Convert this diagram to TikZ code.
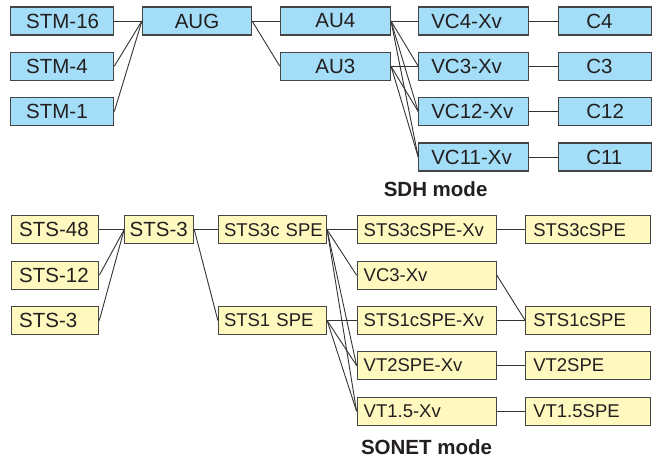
\documentclass[tikz,border=0pt]{standalone}
\usepackage{fontspec}
\setmainfont{Liberation Sans}
\definecolor{sdhblue}{HTML}{A3DDF7}
\definecolor{sonetyellow}{HTML}{FFF9C0}
\definecolor{boxline}{HTML}{454545}
\definecolor{textgray}{HTML}{231F20}
\tikzset{
  box/.style={draw=boxline, line width=1.2pt, minimum height=28pt, inner ysep=0pt,
    font=\fontsize{20.5}{24}\selectfont, text=textgray},
  sdh/.style={box, fill=sdhblue},
  sonet/.style={box, fill=sonetyellow},
  small/.style={font=\fontsize{18.5}{22}\selectfont},
  col/.style 2 args={text width=#1, inner xsep=#2,
    execute at begin node={\hbox to\hsize\bgroup}, execute at end node={\hss\egroup}},
  link/.style={draw=black!80, line width=0.9pt},
  modelabel/.style={font=\fontsize{20.5}{24}\selectfont\bfseries, text=textgray}
}
\begin{document}
\begin{tikzpicture}[x=1pt,y=-1pt]
  \useasboundingbox (0,0) rectangle (658,458);
  % SDH
  \node[sdh,col={72pt}{15.5pt}] (stm16) at (62.2,21) {STM-16};
  \node[sdh,col={72pt}{15.5pt}] (stm4) at (62.2,66.2) {STM-4};
  \node[sdh,col={72pt}{15.5pt}] (stm1) at (62.2,111.5) {STM-1};
  \node[sdh,minimum width=109pt] (aug) at (197,21) {AUG};
  \node[sdh,minimum width=110pt] (au4) at (335.4,21) {AU4};
  \node[sdh,minimum width=110pt] (au3) at (335.4,66.2) {AU3};
  \node[sdh,col={85pt}{12.5pt}] (vc4) at (473.8,21) {VC4-Xv};
  \node[sdh,col={85pt}{12.5pt}] (vc3) at (473.8,66.2) {VC3-Xv};
  \node[sdh,col={85pt}{12.5pt}] (vc12) at (473.8,111.5) {VC12-Xv};
  \node[sdh,col={85pt}{12.5pt}] (vc11) at (473.8,157) {VC11-Xv};
  \node[sdh,col={38pt}{27.5pt}] (c4) at (605.3,21) {C4};
  \node[sdh,col={38pt}{27.5pt}] (c3) at (605.3,66.2) {C3};
  \node[sdh,col={38pt}{27.5pt}] (c12) at (605.3,111.5) {C12};
  \node[sdh,col={38pt}{27.5pt}] (c11) at (605.3,157) {C11};
  \node[modelabel] (sdhmode) at (435.6,189) {SDH mode};
  \foreach \a/\b in {stm16/aug,stm4/aug,stm1/aug,aug/au4,aug/au3,
      au4/vc4,au4/vc3,au4/vc12,au4/vc11,au3/vc3,au3/vc12,au3/vc11,
      vc4/c4,vc3/c3,vc12/c12,vc11/c11}
    \draw[link] (\a.east) -- (\b.west);
  % SONET
  \node[sonet,col={72pt}{7.5pt}] (sts48) at (55.2,229.8) {STS-48};
  \node[sonet,col={72pt}{7.5pt}] (sts12) at (55.2,275.2) {STS-12};
  \node[sonet,col={72pt}{7.5pt}] (sts3in) at (55.2,320.5) {STS-3};
  \node[sonet,col={59pt}{5pt}] (sts3) at (159.2,229.8) {STS-3};
  \node[sonet,small,col={97pt}{5.5pt}] (spe3c) at (272.5,229.8) {STS3c SPE};
  \node[sonet,small,col={97pt}{5.5pt}] (spe1) at (272.5,320.5) {STS1 SPE};
  \node[sonet,small,col={126pt}{6.5pt}] (xv3c) at (426.7,229.8) {STS3cSPE-Xv};
  \node[sonet,small,col={126pt}{6.5pt}] (vc3xv) at (426.7,275.2) {VC3-Xv};
  \node[sonet,small,col={126pt}{6.5pt}] (xv1c) at (426.7,320.5) {STS1cSPE-Xv};
  \node[sonet,small,col={126pt}{6.5pt}] (vt2xv) at (426.7,365.5) {VT2SPE-Xv};
  \node[sonet,small,col={126pt}{6.5pt}] (vt15xv) at (426.7,411.2) {VT1.5-Xv};
  \node[sonet,small,col={110pt}{7.5pt}] (sts3cspe) at (588.3,229.8) {STS3cSPE};
  \node[sonet,small,col={110pt}{7.5pt}] (sts1cspe) at (588.3,320.5) {STS1cSPE};
  \node[sonet,small,col={110pt}{7.5pt}] (vt2spe) at (588.3,365.5) {VT2SPE};
  \node[sonet,small,col={110pt}{7.5pt}] (vt15spe) at (588.3,411.2) {VT1.5SPE};
  \node[modelabel] (sonetmode) at (426.5,447) {SONET mode};
  \foreach \a/\b in {sts48/sts3,sts12/sts3,sts3in/sts3,sts3/spe3c,sts3/spe1,
      spe3c/xv3c,spe3c/vc3xv,spe3c/vt2xv,spe3c/vt15xv,spe1/xv1c,spe1/vt2xv,spe1/vt15xv,
      xv3c/sts3cspe,vc3xv/sts1cspe,xv1c/sts1cspe,vt2xv/vt2spe,vt15xv/vt15spe}
    \draw[link] (\a.east) -- (\b.west);
\end{tikzpicture}
\end{document}
